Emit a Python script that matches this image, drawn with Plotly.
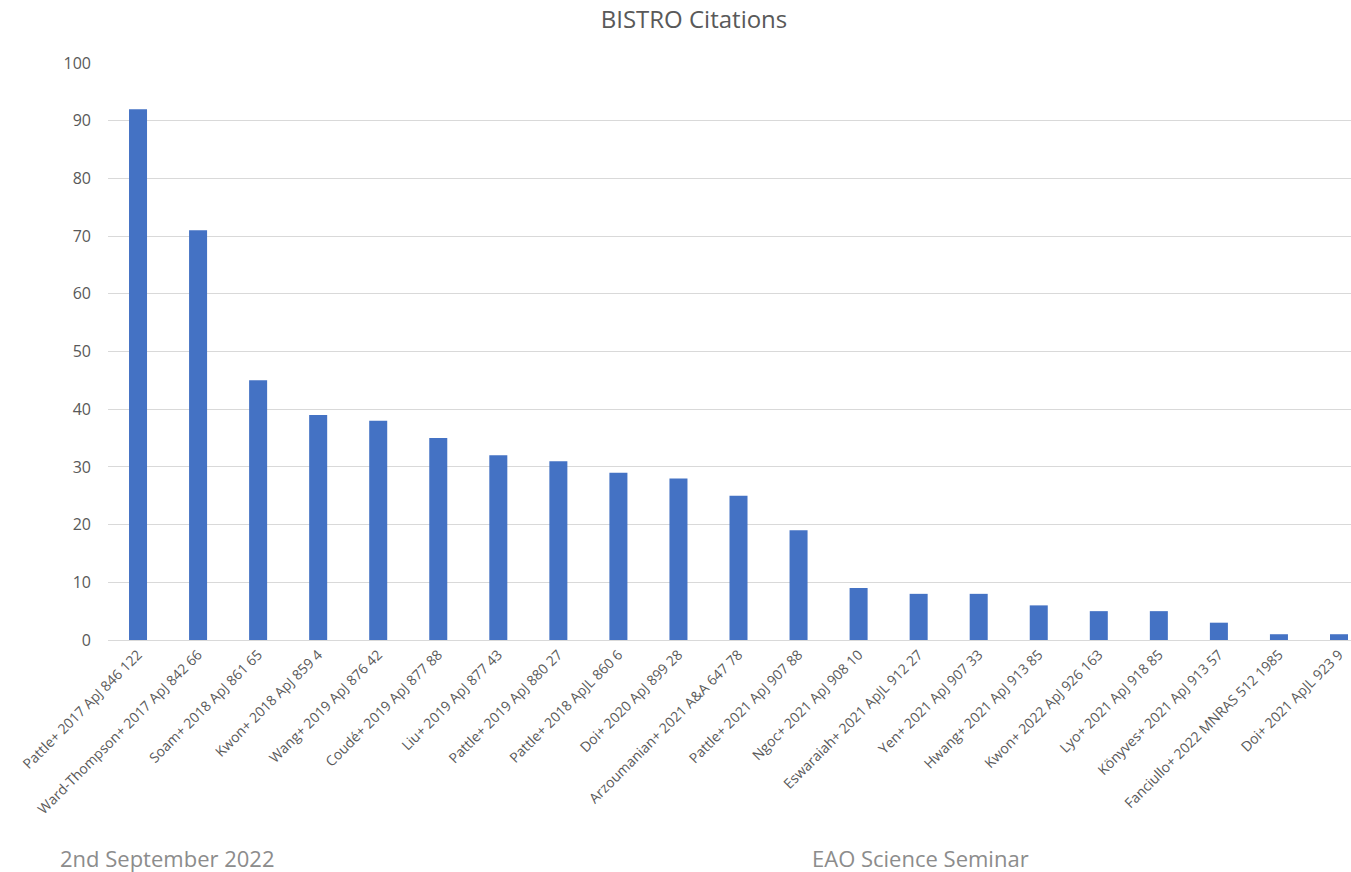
import plotly.graph_objects as go

papers = [
    "Pattle+ 2017 ApJ 846 122",
    "Ward-Thompson+ 2017 ApJ 842 66",
    "Soam+ 2018 ApJ 861 65",
    "Kwon+ 2018 ApJ 859 4",
    "Wang+ 2019 ApJ 876 42",
    "Coudé+ 2019 ApJ 877 88",
    "Liu+ 2019 ApJ 877 43",
    "Pattle+ 2019 ApJ 880 27",
    "Pattle+ 2018 ApJL 860 6",
    "Doi+ 2020 ApJ 899 28",
    "Arzoumanian+ 2021 A&A 647 78",
    "Pattle+ 2021 ApJ 907 88",
    "Ngoc+ 2021 ApJ 908 10",
    "Eswaraiah+ 2021 ApJL 912 27",
    "Yen+ 2021 ApJ 907 33",
    "Hwang+ 2021 ApJ 913 85",
    "Kwon+ 2022 ApJ 926 163",
    "Lyo+ 2021 ApJ 918 85",
    "Könyves+ 2021 ApJ 913 57",
    "Fanciullo+ 2022 MNRAS 512 1985",
    "Doi+ 2021 ApJL 923 9",
]
citations = [92, 71, 45, 39, 38, 35, 32, 31, 29, 28, 25, 19, 9, 8, 8, 6, 5, 5, 3, 1, 1]
y_ticks = list(range(0, 101, 10))

FONT = "Open Sans"
TXT = "#595959"
W, H = 1351, 872
L, R, T, B = 108, 0, 63, 232

fig = go.Figure(
    go.Bar(
        x=papers,
        y=citations,
        width=0.3,
        marker=dict(color="#4472C4", line=dict(width=0)),
    )
)

fig.update_layout(
    width=W,
    height=H,
    margin=dict(l=L, r=R, t=T, b=B),
    paper_bgcolor="white",
    plot_bgcolor="white",
    showlegend=False,
    font=dict(family=FONT, color=TXT),
    title=dict(
        text="BISTRO Citations",
        x=694 / W,
        xref="container",
        xanchor="center",
        y=1 - 20 / H,
        yref="container",
        yanchor="middle",
        font=dict(size=24, color=TXT, family=FONT),
    ),
    xaxis=dict(
        range=[-0.5, 20.2],
        tickangle=-45,
        tickfont=dict(size=14, color=TXT),
        showgrid=False,
        showline=True,
        linecolor="#d9d9d9",
        ticks="",
    ),
    yaxis=dict(
        range=[0, 100],
        tickvals=y_ticks,
        tickfont=dict(size=16, color=TXT),
        showgrid=True,
        gridcolor="#d9d9d9",
        gridwidth=1,
        zeroline=False,
        ticks="",
        ticklabelstandoff=16,
    ),
)

# footer captions, placed in page pixels
plot_w = W - L - R
plot_h = H - T - B
for text, px, py in [("2nd September 2022", 58, 858), ("EAO Science Seminar", 810, 858)]:
    fig.add_annotation(
        text=text,
        x=(px - L) / plot_w,
        y=(H - B - py) / plot_h,
        xref="paper",
        yref="paper",
        xanchor="left",
        yanchor="middle",
        showarrow=False,
        font=dict(size=22, color="#8c8c8c", family=FONT),
    )

fig.write_html("out.html")
